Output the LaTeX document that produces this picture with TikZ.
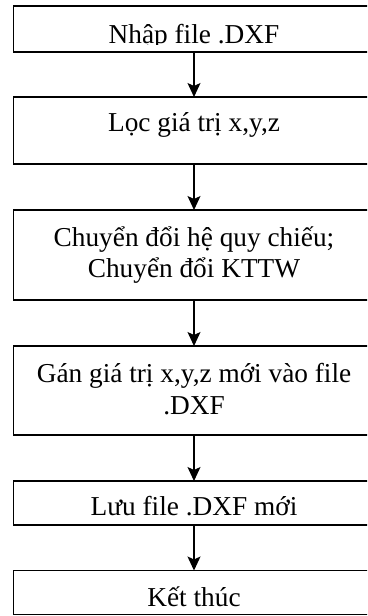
\documentclass[tikz,border=0pt]{standalone}
\usepackage{fontspec}
\setmainfont{Liberation Serif}
\usetikzlibrary{arrows.meta}
\begin{document}
\begin{tikzpicture}[x=1pt,y=-1pt,
  box/.style={draw, line width=1.5pt, minimum width=361pt, inner sep=0pt, outer sep=0pt},
  lbl/.style={inner sep=0pt, anchor=base, font=\fontsize{27.3}{31.5}\selectfont, align=center},
  flow/.style={-{Stealth[length=14pt,width=13pt,inset=3pt]}, line width=1.2pt}]
\clip (0,0) rectangle (367,616);
\fill[white] (0,0) rectangle (367,616);
\node[box, minimum height=46pt] (b1) at (194,29) {};
\node[box, minimum height=67pt] (b2) at (194,130.5) {};
\node[box, minimum height=90pt] (b3) at (194,255) {};
\node[box, minimum height=89pt] (b4) at (194,390.5) {};
\node[box, minimum height=44pt] (b5) at (194,503) {};
\node[box, minimum height=44pt] (b6) at (194,592.5) {};
\begin{scope}
  \clip (0,0) rectangle (367,44);
  \node[lbl] (t1) at (194,43) {Nhập file .DXF};
\end{scope}
\node[lbl] (t2) at (194,131.5) {Lọc giá trị x,y,z};
\node[lbl] (t3) at (194,277.5) {Chuyển đổi hệ quy chiếu;\\Chuyển đổi KTTW};
\node[lbl] (t4) at (194,414) {Gán giá trị x,y,z mới vào file\\.DXF};
\node[lbl] (t5) at (194,515.5) {Lưu file .DXF mới};
\node[lbl] (t6) at (194,606) {Kết thúc};
\draw[flow] (b1.south) -- (b2.north);
\draw[flow] (b2.south) -- (b3.north);
\draw[flow] (b3.south) -- (b4.north);
\draw[flow] (b4.south) -- (b5.north);
\draw[flow] (b5.south) -- (b6.north);
\end{tikzpicture}
\end{document}
